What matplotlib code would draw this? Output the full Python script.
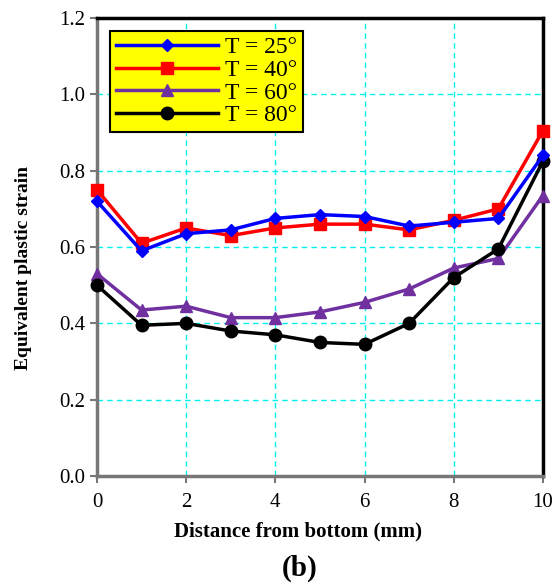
import numpy as np
from matplotlib import pyplot as plt

# distance from bottom (mm)
dist = [0, 1, 2, 3, 4, 5, 6, 7, 8, 9, 10]

# equivalent plastic strain per temperature
strain_25 = [0.72, 0.59, 0.635, 0.645, 0.675, 0.685, 0.68, 0.655, 0.665, 0.675, 0.84]
strain_40 = [0.75, 0.61, 0.65, 0.63, 0.65, 0.66, 0.66, 0.645, 0.67, 0.70, 0.905]
strain_60 = [0.53, 0.435, 0.445, 0.415, 0.415, 0.43, 0.455, 0.49, 0.545, 0.57, 0.735]
strain_80 = [0.50, 0.395, 0.40, 0.38, 0.37, 0.35, 0.345, 0.40, 0.52, 0.595, 0.825]

labels = ['T = 25°', 'T = 40°', 'T = 60°', 'T = 80°']

plt.rcParams['font.family'] = ['Liberation Serif', 'DejaVu Serif']

fig = plt.figure(figsize=(5.54, 5.83), dpi=100)
ax = fig.add_axes([0.175, 0.1835, 0.805, 0.7855])

ax.plot(dist, strain_25, color='#0000ff', lw=2.5, marker='D', ms=6, label=labels[0], clip_on=False, zorder=4)
ax.plot(dist, strain_40, color='#ff0000', lw=2.5, marker='s', ms=9, label=labels[1], clip_on=False, zorder=3)
ax.plot(dist, strain_60, color='#7030a0', lw=2.5, marker='^', ms=9, label=labels[2], clip_on=False, zorder=3)
ax.plot(dist, strain_80, color='#000000', lw=2.5, marker='o', ms=9, label=labels[3], clip_on=False, zorder=3)

ax.set_xlim(0, 10)
ax.set_ylim(0, 1.2)
ax.set_xticks(np.arange(0, 11, 2))
ax.set_yticks(np.arange(0, 1.21, 0.2))
ax.yaxis.set_major_formatter(plt.FormatStrFormatter('%.1f'))
ax.grid(True, color='#00f0f0', ls=(0, (4, 3)), lw=1)
ax.set_axisbelow(True)

for s in ['left', 'bottom']:
    ax.spines[s].set_color('#777777')
    ax.spines[s].set_linewidth(2.5)
for s in ['top', 'right']:
    ax.spines[s].set_color('black')
    ax.spines[s].set_linewidth(2.5)

ax.tick_params(axis='both', labelsize=15, color='#777777', length=5, width=1.5)
ax.tick_params(axis='x', pad=7)

ax.set_xlabel('Distance from bottom (mm)', fontsize=15, fontweight='bold')
ax.xaxis.set_label_coords(0.45, -0.1)
ax.set_ylabel('Equivalent plastic strain', fontsize=14, fontweight='bold')
ax.yaxis.set_label_coords(-0.146, 0.454)

leg = ax.legend(loc='upper left', bbox_to_anchor=(0.03, 0.972), fontsize=17,
                facecolor='#ffff00', edgecolor='black', framealpha=1, fancybox=False,
                handlelength=4.3, handletextpad=0.3, borderpad=0.25, labelspacing=0.05,
                borderaxespad=0)
leg.get_frame().set_linewidth(1.5)

fig.text(0.54, 0.012, '(b)', fontsize=21, fontweight='bold', ha='center')

plt.savefig('out.png', dpi=100)
